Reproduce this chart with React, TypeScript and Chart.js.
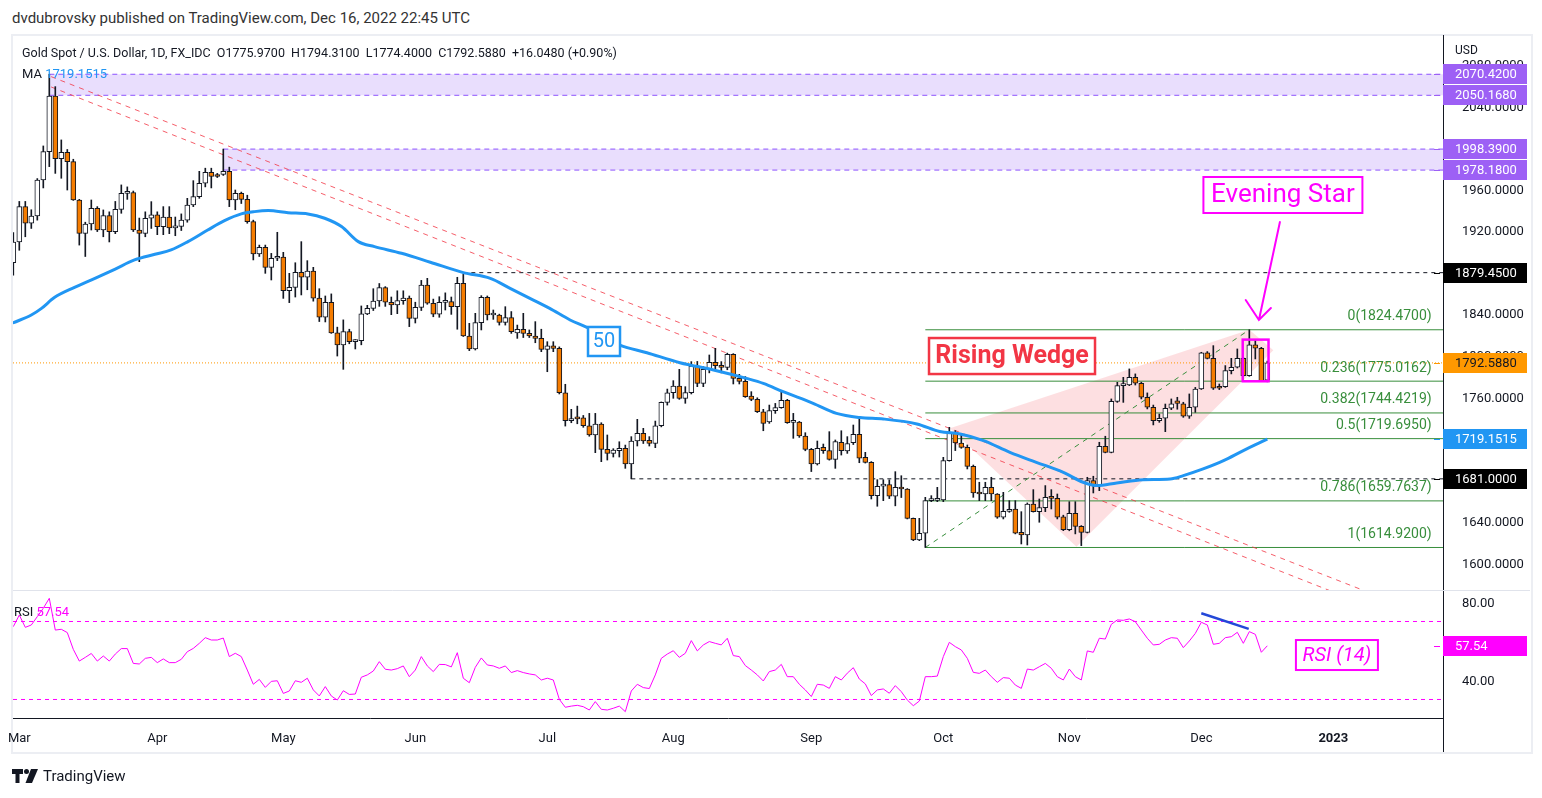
import React, { useEffect, useRef } from "react";
import { Chart, registerables } from "chart.js";

Chart.register(...registerables);

const FONT = "Roboto, 'Noto Sans', sans-serif";

// ---------- Time axis (bar index 0 = 1 Mar 2022, one bar per weekday) ----------
const FIRST_BAR = -1; // 28 Feb 2022
const X_MIN = -1.05;
const X_MAX = 237.28;
const monthTickIdx = [0, 23, 44, 66, 88, 109, 132, 154, 175, 197, 219];
const monthTickLabels = ["Mar", "Apr", "May", "Jun", "Jul", "Aug", "Sep", "Oct", "Nov", "Dec", "2023"];

// ---------- Price pane ----------
const PRICE_MIN = 1574;
const PRICE_MAX = 2108.2;
const priceTickStep = 40;

const opens = [
  1889, 1909, 1943, 1927, 1934, 1968.6, 1996, 2049.5, 1989.2, 1995.3,
  1986.3, 1949.4, 1917.3, 1926.3, 1941.4, 1920.5, 1934.3, 1919, 1940.4, 1955.8,
  1956.6, 1920.5, 1917.3, 1931.8, 1935, 1923.8, 1933, 1922.5, 1924, 1930,
  1944.6, 1952.6, 1965.5, 1976, 1973, 1974, 1977, 1949.4, 1955.8, 1950,
  1928.6, 1897.4, 1903.9, 1884.6, 1893.3, 1894.5, 1862.1, 1865.3, 1879.8, 1875,
  1881, 1855, 1836.5, 1850.9, 1821.5, 1809.8, 1822.7, 1813, 1814, 1839.7,
  1845.1, 1852.2, 1865, 1851, 1848.5, 1852.5, 1855, 1835.5, 1846, 1867.6,
  1850, 1839.5, 1850.9, 1851.5, 1846.7, 1869.2, 1818.5, 1806, 1831.3, 1855.7,
  1838.7, 1838.5, 1831.6, 1836.1, 1821.5, 1824.9, 1821, 1818.5, 1816.2, 1805.6,
  1808.9, 1806.6, 1763.9, 1737, 1740.5, 1739.6, 1732.1, 1723.2, 1733.8, 1709.4,
  1705.5, 1708, 1710.3, 1695.3, 1717.4, 1724.8, 1718, 1715, 1732.1, 1754.6,
  1763.9, 1770.3, 1758.5, 1764, 1789.6, 1772.9, 1786.4, 1793.1, 1789.9, 1788.3,
  1800.8, 1777.7, 1774.8, 1760.7, 1757.5, 1745.6, 1735.7, 1746.6, 1749.5, 1756.5,
  1735.4, 1735.7, 1722.2, 1709.4, 1695.3, 1711.3, 1708.1, 1699.7, 1716.2, 1707.8,
  1715.8, 1723.8, 1701.7, 1696.9, 1664.8, 1674, 1675.5, 1664.2, 1672.8, 1671.2,
  1643, 1622.1, 1628.6, 1660, 1660.2, 1660.8, 1698.5, 1724.8, 1715.5, 1711.3,
  1693, 1667.4, 1666.4, 1672.8, 1666.4, 1644, 1649.7, 1652, 1629.6, 1627,
  1656.8, 1649.4, 1653.3, 1663.5, 1662.2, 1644.5, 1632.1, 1647.8, 1635.3, 1629.5,
  1679.3, 1674.5, 1712.3, 1706.5, 1755.6, 1770.7, 1771.3, 1778.7, 1773, 1759.5,
  1749.9, 1737, 1739.3, 1748.9, 1756, 1753.1, 1741.2, 1749.9, 1767.5, 1802.2,
  1797, 1769.7, 1769.7, 1785.2, 1788.4, 1797, 1780.3, 1809.9, 1806.7, 1775.97,
];
const highs = [
  1918, 1948, 1948, 1940, 1970, 2001.4, 2070.42, 2058.5, 2007.2, 1998,
  1988.6, 1950, 1928, 1949.4, 1943, 1939.8, 1938, 1948, 1963.9, 1962,
  1958, 1932, 1938, 1947.8, 1938, 1943, 1943, 1933, 1936, 1951,
  1968, 1977, 1980, 1980, 1975, 1998.39, 1981, 1959, 1957, 1954,
  1930, 1906, 1906, 1898, 1918.3, 1899, 1878.8, 1889, 1909.3, 1891,
  1884.6, 1864, 1857, 1859, 1827, 1834, 1825, 1815, 1847.4, 1848,
  1864, 1869, 1866, 1856, 1862, 1862, 1857, 1851, 1872, 1874,
  1854, 1856.3, 1860, 1856, 1875, 1877.8, 1830.7, 1840.3, 1857.3, 1857,
  1843.5, 1839.5, 1846.7, 1842, 1829, 1840.3, 1824.3, 1832.3, 1825, 1813,
  1813, 1808, 1772, 1747.9, 1751, 1742, 1744, 1744, 1735, 1723.2,
  1710, 1716.7, 1713.5, 1721.6, 1738.3, 1729.6, 1721.6, 1736.6, 1755, 1767.4,
  1775.5, 1786.4, 1769.7, 1793.8, 1794, 1789, 1800.2, 1806.6, 1793.8, 1802,
  1801.5, 1781.6, 1779.4, 1764.9, 1759, 1747.9, 1752, 1753.6, 1764.9, 1757.5,
  1744, 1736.3, 1725.4, 1710.3, 1717.4, 1714.5, 1726.4, 1718.4, 1727.3, 1721.6,
  1732.8, 1739, 1706.5, 1697.6, 1680.2, 1680.2, 1680, 1687.9, 1684, 1671.6,
  1643.3, 1643, 1663.2, 1664.8, 1672.8, 1701.7, 1730.6, 1727.4, 1724, 1713.6,
  1694.3, 1677.7, 1677.7, 1682.5, 1666.8, 1668, 1660, 1660, 1649.4, 1657.8,
  1670.6, 1661.6, 1674.5, 1670.6, 1666.4, 1646, 1659, 1659, 1636, 1682.5,
  1683.5, 1716.2, 1722, 1757.9, 1773.9, 1778.7, 1786.8, 1782, 1774, 1763.7,
  1752, 1743.4, 1753, 1757.9, 1759.5, 1754.7, 1762.7, 1769, 1802.8, 1803.5,
  1809.2, 1772.3, 1790, 1797, 1806, 1798, 1824.47, 1814.1, 1807.6, 1794.31,
];
const lows = [
  1877, 1901, 1914, 1922, 1930, 1961, 1981.5, 1975, 1970.3, 1959,
  1949, 1906, 1895, 1920.5, 1919, 1914, 1909, 1917, 1936.6, 1950,
  1919, 1890, 1914, 1922, 1916, 1916, 1917, 1915, 1920, 1928,
  1943, 1951, 1962, 1961, 1971, 1973, 1943, 1940, 1946, 1927,
  1891.7, 1895, 1878.8, 1872.4, 1891, 1854.7, 1850.6, 1856, 1858, 1863,
  1852, 1832.4, 1832, 1821, 1799.2, 1786.4, 1811, 1806, 1810, 1839,
  1843, 1847, 1847, 1839, 1840, 1849, 1827.5, 1831, 1843, 1849,
  1837, 1836.5, 1843.5, 1839.3, 1825, 1818, 1804.4, 1805, 1824.3, 1833.9,
  1834.5, 1829, 1829, 1821, 1816.2, 1817, 1817, 1812, 1803.4, 1784.1,
  1803.4, 1762.7, 1731.8, 1735, 1734, 1730.6, 1722, 1706.2, 1697.5, 1699.1,
  1702, 1702, 1691.1, 1681, 1712.6, 1715, 1712.6, 1711, 1731, 1752,
  1758.5, 1757.5, 1753.7, 1762.7, 1769.7, 1769.7, 1783, 1786.7, 1783, 1786,
  1772.3, 1772.3, 1759.4, 1756.2, 1744.8, 1727.3, 1734.4, 1744, 1748.9, 1734.4,
  1720, 1720.9, 1708, 1688, 1694.3, 1705.5, 1699, 1691.1, 1703.9, 1705.5,
  1714, 1696.5, 1696.2, 1661.6, 1654.6, 1660, 1662, 1655, 1663, 1642.4,
  1621.5, 1621.5, 1614.92, 1659, 1659, 1659, 1698, 1708.2, 1710.4, 1690.5,
  1663.2, 1660, 1660, 1660, 1643, 1642.4, 1648.8, 1628, 1618.3, 1617.3,
  1649, 1639.2, 1649.4, 1652, 1642.4, 1631.1, 1631, 1628, 1616.7, 1628.9,
  1667.4, 1669.6, 1706, 1706, 1754.6, 1754.6, 1770.7, 1771.3, 1757.9, 1748.3,
  1732.9, 1735.4, 1726.4, 1747.6, 1748, 1740.2, 1739.2, 1745, 1767, 1796.4,
  1767, 1766.9, 1769, 1782, 1787.7, 1779.7, 1779.7, 1796.4, 1774.9, 1774.4,
];
const closes = [
  1909, 1943, 1927, 1934, 1968.6, 1996, 2049.5, 1989.2, 1995.3, 1986.3,
  1949.4, 1917.3, 1926.3, 1941.4, 1920.5, 1934.3, 1919, 1940.4, 1955.8, 1956.6,
  1920.5, 1917.3, 1931.8, 1935, 1923.8, 1933, 1922.5, 1924, 1930, 1944.6,
  1952.6, 1965.5, 1976, 1972, 1972, 1977, 1949.4, 1955.8, 1950, 1928.6,
  1897.4, 1903.9, 1884.6, 1893.3, 1894.5, 1862.1, 1865.3, 1879.8, 1875, 1881,
  1855, 1836.5, 1850.9, 1821.5, 1809.8, 1822.7, 1813, 1814, 1839.7, 1845.1,
  1852.2, 1865, 1851, 1848.5, 1852.5, 1855, 1835.5, 1846, 1867.6, 1850,
  1839.5, 1850.9, 1851.5, 1846.7, 1869.2, 1818.5, 1806, 1831.3, 1855.7, 1838.7,
  1839.5, 1831.6, 1836.1, 1822.7, 1824.9, 1821, 1818.5, 1816.2, 1805.6, 1808.9,
  1806.6, 1763.9, 1737, 1738.5, 1738.7, 1732.1, 1723.2, 1733.8, 1709.4, 1705.5,
  1708.7, 1710.3, 1695.3, 1717.4, 1724.8, 1717.4, 1715, 1732.1, 1754.6, 1763.9,
  1770.3, 1758.5, 1764, 1789.6, 1772.9, 1786.4, 1793.1, 1789.9, 1788.3, 1800.8,
  1777.7, 1774.8, 1760.1, 1757.5, 1745.6, 1734.4, 1746.6, 1749.5, 1756.5, 1735,
  1736, 1722.2, 1709.4, 1695.3, 1710.3, 1708.1, 1699.7, 1716.8, 1708.1, 1715,
  1723.8, 1701, 1696.9, 1664.8, 1673.8, 1675.5, 1664.2, 1672.8, 1671.2, 1643,
  1622.1, 1628.6, 1660, 1660.6, 1660.8, 1698.5, 1724.8, 1715.5, 1711.3, 1693,
  1667.4, 1666.4, 1672.8, 1666.4, 1644, 1649.7, 1650.2, 1628.6, 1627, 1656.8,
  1649.4, 1653.3, 1663.2, 1662.2, 1644, 1632.1, 1647.8, 1635.3, 1629.5, 1679.3,
  1674.5, 1712.3, 1706.5, 1755.6, 1770.7, 1771.3, 1778.7, 1773, 1759.5, 1749.9,
  1737, 1739.3, 1748.9, 1753.1, 1753.7, 1741.2, 1749.9, 1767.5, 1802.2, 1797,
  1768.2, 1768.2, 1785.2, 1788.4, 1797, 1780.3, 1809.9, 1806.7, 1775.5, 1792.588,
];

// 50-day moving average
const maIdx = [
  -1.1, 2, 3.7, 5.9, 9.2, 12.6, 15.9, 19.2, 22.6, 25.3, 28.1, 31.4, 34.2, 37, 39.2,
  41.5, 44.8, 48.1, 50.9, 53.7, 56.5, 59.2, 63.7, 68.5, 74, 78.5, 81.8, 85.1, 88.4,
  91.8, 94.6, 100.1, 104.6, 110.1, 115.7, 121.2, 124, 127.3, 132.3, 136.2, 140.1,
  144, 149.6, 153.4, 156.8, 160.7, 165.1, 169.5, 174, 177.3, 179.6, 182.9, 187.3,
  191.8, 194, 197.3, 200.7, 204, 208,
];
const maVals = [
  1831, 1838.7, 1845.1, 1855.7, 1865.3, 1874, 1882.7, 1891.7, 1897.1, 1901.3, 1909.3,
  1920.5, 1929.5, 1936, 1938.2, 1939.2, 1937.2, 1936, 1931.8, 1923.8, 1909.3, 1904.5,
  1898.1, 1889.5, 1879.5, 1874, 1864.4, 1854.7, 1845.1, 1833.9, 1826.8, 1809.8,
  1802.4, 1792.8, 1785.8, 1777.7, 1772.9, 1764.9, 1753.7, 1744, 1740, 1738.6, 1733.8,
  1726.5, 1724.2, 1717.8, 1706.5, 1696.9, 1687.3, 1677.7, 1674.5, 1677, 1680.2,
  1680.9, 1684.1, 1690.5, 1698.5, 1708.2, 1719.15,
];

// Drawings
const zoneTops = [2070.42, 1998.39];
const zoneBottoms = [2050.168, 1978.18];
const zoneStartIdx = [5, 34];
const levelLines = [1879.45, 1681];
const levelStartIdx = [74, 102];
const fibRatios = ["0", "0.236", "0.382", "0.5", "0.786", "1"];
const fibLevels = [1824.47, 1775.0162, 1744.4219, 1719.695, 1659.7637, 1614.92];
const fibStartIdx = 151;
const trendA = [{ x: 5.3, y: 2068.1 }, { x: 232, y: 1555.6 }];
const trendB = [{ x: 5.3, y: 2058.2 }, { x: 232, y: 1542.5 }];
const fibDiagonal = [{ x: 151, y: 1614.92 }, { x: 205, y: 1824.47 }];
const wedge = [
  { x: 155.1, y: 1729.7 },
  { x: 205, y: 1824.47 },
  { x: 209, y: 1804.8 },
  { x: 176.2, y: 1615.7 },
];
const starBox = { x0: 203.9, x1: 208.2, y0: 1774.9, y1: 1815 };
const arrowShaft = [{ x: 210.1, y: 1928.2 }, { x: 206.6, y: 1833.9 }];
const arrowWings = [{ x: 204.4, y: 1853.1 }, { x: 208.6, y: 1845.4 }];
const lastPrice = 1792.588;
const maLast = 1719.1515;

// ---------- RSI pane ----------
const RSI_MIN = 20.5;
const RSI_MAX = 86.15;
const rsiVals = [
  67.35, 73.3, 67.0, 68.2, 72.5, 76.8, 81.9, 65.6, 66.0, 64.3,
  55.7, 49.7, 51.6, 53.6, 49.7, 52.3, 49.7, 53.3, 56.1, 56.1,
  48.5, 48.2, 51.1, 51.6, 48.9, 50.8, 48.9, 48.9, 50.6, 54.5,
  56.2, 58.8, 61.7, 60.5, 60.5, 61.5, 52.0, 53.7, 52.0, 45.1,
  37.8, 40.3, 36.2, 39.3, 39.6, 33.1, 34.35, 39.6, 38.8, 40.9,
  34.9, 31.8, 36.6, 31.8, 29.7, 34.5, 32.6, 32.8, 41.4, 42.6,
  44.6, 49.4, 45.5, 45.1, 45.8, 47.2, 41.7, 45.1, 52.0, 47.2,
  44.3, 48.0, 47.9, 46.7, 54.0, 40.9, 38.6, 46.5, 51.3, 47.7,
  47.2, 46.0, 47.2, 43.8, 44.8, 43.8, 43.1, 42.6, 40.0, 40.9,
  40.0, 30.1, 26.0, 26.6, 27.0, 26.3, 24.6, 28.9, 24.95, 24.6,
  25.5, 26.6, 23.75, 34.35, 37.8, 36.1, 35.6, 42.6, 51.1, 53.3,
  55.0, 51.6, 53.7, 60.2, 54.9,
  57.95, 59.7, 58.8, 58.0, 61.4, 52.5, 52.0, 47.4, 45.1, 42.6,
  39.5, 44.3, 45.1, 48.0, 41.7, 41.7, 37.8, 34.9, 31.5, 37.8,
  37.4, 35.7, 41.7, 40.0, 43.5, 46.3, 40.5, 38.0, 32.0, 34.9,
  35.4, 33.2, 37.1, 34.0, 29.7, 26.8, 29.2, 41.7, 41.7, 42.0,
  52.0, 59.3, 57.1, 55.4, 51.1, 43.9, 43.4, 45.1, 41.7, 38.8,
  41.2, 40.9, 37.4, 35.7, 45.6, 45.1, 46.8, 48.5, 46.0, 41.7,
  40.0, 45.6, 41.7, 40.0, 54.9, 54.2, 61.4, 61.0, 68.55, 70.8,
  70.6, 71.3, 69.9, 65.6, 61.4, 57.95, 58.3, 60.5, 61.7, 61.4,
  56.6, 60.0, 63.9, 69.6, 68.2, 58.3, 58.8, 61.7, 62.2, 64.45,
  58.8, 64.8, 63.4, 54.2, 57.54,
];
const rsiBands = [70, 30];
const rsiDivergence = [{ x: 197, y: 74.2 }, { x: 204.9, y: 66.2 }];
const rsiLast = 57.54;

// Text annotations (anchored in data units)
const wedgeLabel = { x: 165.45, y: 1799.2, text: "Rising Wedge" };
const starLabel = { x: 210.6, y: 1954.2, text: "Evening Star" };
const maTag = { x: 97.45, y: 1813.2, text: "50" };
const rsiTag = { x: 219.6, y: 52.8, text: "RSI (14)" };
const fibLabelIdx = 235.4;

const axisTags = [
  { v: 2070.42, bg: "#9d60f5", fg: "#fff" },
  { v: 2050.168, bg: "#9d60f5", fg: "#fff" },
  { v: 1998.39, bg: "#9d60f5", fg: "#fff" },
  { v: 1978.18, bg: "#9d60f5", fg: "#fff" },
  { v: 1879.45, bg: "#000000", fg: "#fff" },
  { v: lastPrice, bg: "#ff9800", fg: "#131722" },
  { v: maLast, bg: "#2196f3", fg: "#fff" },
  { v: 1681, bg: "#000000", fg: "#fff" },
];

const MAGENTA = "#ff00ff";
const FIB_GREEN = "#388e3c";

function hline(y: number, from: number, to: number) {
  return [{ x: from, y }, { x: to, y }];
}

function drawTag(ctx: any, cx: number, cy: number, text: string, font: string, color: string, bw: number, w: number, h: number) {
  ctx.fillStyle = "#ffffff";
  ctx.fillRect(cx - w / 2, cy - h / 2, w, h);
  ctx.lineWidth = bw;
  ctx.strokeStyle = color;
  ctx.strokeRect(cx - w / 2, cy - h / 2, w, h);
  ctx.font = font;
  ctx.fillStyle = color;
  ctx.textAlign = "center";
  ctx.textBaseline = "middle";
  ctx.fillText(text, cx, cy + 1);
}

const drawingsPlugin = {
  id: "tvDrawings",
  afterDatasetsDraw(chart: any) {
    const { ctx } = chart;
    const xs = chart.scales.x;
    const ys = chart.scales.y;
    const rs = chart.scales.rsi;
    const px = (v: number) => xs.getPixelForValue(v);
    const py = (v: number) => ys.getPixelForValue(v);
    ctx.save();

    // fib labels
    ctx.font = `14px ${FONT}`;
    ctx.fillStyle = FIB_GREEN;
    ctx.textAlign = "right";
    ctx.textBaseline = "middle";
    fibLevels.forEach((lv, k) => {
      ctx.fillText(`${fibRatios[k]}(${lv.toFixed(4)})`, px(fibLabelIdx), py(lv) - 13);
    });

    // evening star box
    ctx.strokeStyle = MAGENTA;
    ctx.lineWidth = 2.5;
    ctx.strokeRect(px(starBox.x0), py(starBox.y1), px(starBox.x1) - px(starBox.x0), py(starBox.y0) - py(starBox.y1));

    // arrow
    ctx.lineWidth = 2;
    ctx.lineCap = "round";
    ctx.beginPath();
    ctx.moveTo(px(arrowShaft[0].x), py(arrowShaft[0].y));
    ctx.lineTo(px(arrowShaft[1].x), py(arrowShaft[1].y));
    ctx.moveTo(px(arrowWings[0].x), py(arrowWings[0].y));
    ctx.lineTo(px(arrowShaft[1].x), py(arrowShaft[1].y));
    ctx.lineTo(px(arrowWings[1].x), py(arrowWings[1].y));
    ctx.stroke();

    drawTag(ctx, px(wedgeLabel.x), py(wedgeLabel.y), wedgeLabel.text, `bold 25px ${FONT}`, "#f23645", 2.5, 166, 36);
    drawTag(ctx, px(starLabel.x), py(starLabel.y), starLabel.text, `26px ${FONT}`, MAGENTA, 2, 159, 36);
    drawTag(ctx, px(maTag.x), py(maTag.y), maTag.text, `20px ${FONT}`, "#2196f3", 2.5, 32, 29);
    drawTag(ctx, px(rsiTag.x), rs.getPixelForValue(rsiTag.y), rsiTag.text, `italic 20px ${FONT}`, MAGENTA, 2, 82, 30);
    ctx.restore();
  },
  afterDraw(chart: any) {
    const { ctx } = chart;
    const ys = chart.scales.y;
    const rs = chart.scales.rsi;
    const area = chart.chartArea;
    ctx.save();
    // pane separator
    ctx.strokeStyle = "#e0e3eb";
    ctx.lineWidth = 1;
    ctx.beginPath();
    ctx.moveTo(area.left, Math.round(ys.bottom) + 0.5);
    ctx.lineTo(chart.width, Math.round(ys.bottom) + 0.5);
    ctx.stroke();
    // price axis line through time axis
    ctx.strokeStyle = "#131722";
    ctx.beginPath();
    ctx.moveTo(Math.round(ys.left) + 0.5, area.bottom);
    ctx.lineTo(Math.round(ys.left) + 0.5, chart.height);
    ctx.stroke();

    const tag = (scale: any, v: number, text: string, bg: string, fg: string) => {
      const y = Math.round(scale.getPixelForValue(v));
      ctx.fillStyle = bg;
      ctx.fillRect(scale.left, y - 10, 84, 20);
      ctx.fillRect(scale.left - 9, y, 6, 1);
      ctx.fillStyle = fg;
      ctx.font = `13px ${FONT}`;
      ctx.textAlign = "left";
      ctx.textBaseline = "middle";
      ctx.fillText(text, scale.left + 12, y + 1);
    };
    axisTags.forEach((t) => tag(ys, t.v, t.v.toFixed(4), t.bg, t.fg));
    tag(rs, rsiLast, rsiLast.toFixed(2), MAGENTA, "#fff");
    ctx.restore();
  },
};

export default function App() {
  const ref = useRef<HTMLCanvasElement | null>(null);

  useEffect(() => {
    const bars = opens.map((_, k) => k + FIRST_BAR);
    const wickData = bars.map((x, k) => ({ x, y: [lows[k], highs[k]] }));
    const bodyData = bars.map((x, k) => ({ x, y: [opens[k], closes[k]] }));
    const maData = maIdx.map((x, k) => ({ x, y: maVals[k] }));
    const rsiData = rsiVals.map((y, k) => ({ x: k + FIRST_BAR, y }));

    const lineBase = { type: "line", pointRadius: 0, pointHoverRadius: 0, fill: false, xAxisID: "x", yAxisID: "y" };
    const datasets: any[] = [];

    // purple zones (top fills to bottom)
    zoneTops.forEach((top, k) => {
      datasets.push({ ...lineBase, data: hline(top, zoneStartIdx[k], X_MAX), borderColor: "#8c52ff", borderWidth: 1, borderDash: [5, 4], fill: "+1", backgroundColor: "rgba(155,105,245,0.22)", order: 100 });
      datasets.push({ ...lineBase, data: hline(zoneBottoms[k], zoneStartIdx[k], X_MAX), borderColor: "#8c52ff", borderWidth: 1, borderDash: [5, 4], order: 100 });
    });
    // wedge
    datasets.push({ ...lineBase, data: wedge, borderWidth: 0, borderColor: "rgba(0,0,0,0)", fill: "shape", backgroundColor: "rgba(242,54,69,0.16)", order: 95 });
    // horizontal levels
    levelLines.forEach((lv, k) => {
      datasets.push({ ...lineBase, data: hline(lv, levelStartIdx[k], X_MAX), borderColor: "#131722", borderWidth: 1, borderDash: [4, 4], order: 90 });
    });
    // fib levels
    fibLevels.forEach((lv) => {
      datasets.push({ ...lineBase, data: hline(lv, fibStartIdx, X_MAX), borderColor: FIB_GREEN, borderWidth: 1, order: 85 });
    });
    datasets.push({ ...lineBase, data: fibDiagonal, borderColor: FIB_GREEN, borderWidth: 1, borderDash: [5, 5], order: 80 });
    // descending trend lines
    datasets.push({ ...lineBase, data: trendA, borderColor: "rgba(242,54,69,0.8)", borderWidth: 1, borderDash: [5, 5], order: 75 });
    datasets.push({ ...lineBase, data: trendB, borderColor: "rgba(242,54,69,0.8)", borderWidth: 1, borderDash: [5, 5], order: 75 });
    // last price line
    datasets.push({ ...lineBase, data: hline(lastPrice, X_MIN, X_MAX), borderColor: "#ff9800", borderWidth: 1, borderDash: [1, 2], order: 70 });
    // candles
    datasets.push({ type: "bar", data: wickData, xAxisID: "x", yAxisID: "y", backgroundColor: "#131722", borderWidth: 0, barThickness: 1, grouped: false, minBarLength: 1, order: 20 });
    datasets.push({
      type: "bar", data: bodyData, xAxisID: "x", yAxisID: "y",
      backgroundColor: (c: any) => (closes[c.dataIndex] >= opens[c.dataIndex] ? "#ffffff" : "#f57c00"),
      borderColor: "#131722", borderWidth: 1, borderSkipped: false, barThickness: 5, grouped: false, minBarLength: 2, order: 15,
    });
    // MA 50
    datasets.push({ ...lineBase, data: maData, borderColor: "#2196f3", borderWidth: 3, cubicInterpolationMode: "monotone", order: 5 });
    // RSI pane
    rsiBands.forEach((b) => {
      datasets.push({ ...lineBase, yAxisID: "rsi", data: hline(b, X_MIN, X_MAX), borderColor: MAGENTA, borderWidth: 1, borderDash: [4, 4], order: 60 });
    });
    datasets.push({ ...lineBase, yAxisID: "rsi", data: rsiData, borderColor: MAGENTA, borderWidth: 1, order: 4 });
    datasets.push({ ...lineBase, yAxisID: "rsi", data: rsiDivergence, borderColor: "#2448d8", borderWidth: 2.5, order: 3 });

    const tickFont = { family: FONT, size: 13 };
    const chart = new Chart(ref.current as HTMLCanvasElement, {
      type: "line",
      data: { datasets },
      options: {
        animation: false,
        responsive: false,
        devicePixelRatio: 1,
        events: [],
        layout: { padding: { left: 9, right: 0, top: 0, bottom: 0 } },
        plugins: { legend: { display: false }, tooltip: { enabled: false } },
        scales: {
          x: {
            type: "linear",
            min: X_MIN,
            max: X_MAX,
            offset: false,
            grid: { display: false },
            border: { display: true, color: "#131722", width: 1 },
            ticks: {
              autoSkip: false,
              maxRotation: 0,
              padding: 5,
              color: "#131722",
              font: (c: any) => ({ family: FONT, size: 13, weight: c.tick && c.tick.value === 219 ? "bold" : "normal" }),
              callback: (v: any) => monthTickLabels[monthTickIdx.indexOf(Number(v))] ?? "",
            },
            afterBuildTicks: (s: any) => {
              s.ticks = monthTickIdx.map((value) => ({ value }));
            },
            afterFit: (s: any) => {
              s.height = 34;
              s.paddingLeft = 0;
              s.paddingRight = 0;
            },
          },
          y: {
            type: "linear",
            position: "right",
            stack: "panes",
            stackWeight: 555,
            min: PRICE_MIN,
            max: PRICE_MAX,
            grid: { display: false },
            border: { display: true, color: "#131722", width: 1 },
            ticks: {
              stepSize: priceTickStep,
              includeBounds: false,
              padding: 11,
              labelOffset: 1.5,
              color: "#131722",
              font: tickFont,
              callback: (v: any) => Number(v).toFixed(4),
            },
            afterFit: (s: any) => {
              s.width = 87;
              s.paddingTop = 0;
              s.paddingBottom = 0;
            },
          },
          rsi: {
            type: "linear",
            position: "right",
            stack: "panes",
            stackWeight: 128,
            min: RSI_MIN,
            max: RSI_MAX,
            grid: { display: false },
            border: { display: true, color: "#131722", width: 1 },
            ticks: {
              stepSize: 20,
              includeBounds: false,
              padding: 11,
              labelOffset: 1.5,
              color: "#131722",
              font: tickFont,
              callback: (v: any) => Number(v).toFixed(2),
            },
            afterFit: (s: any) => {
              s.width = 87;
              s.paddingTop = 0;
              s.paddingBottom = 0;
            },
          },
        },
      } as any,
      plugins: [drawingsPlugin],
    } as any);
    return () => chart.destroy();
  }, []);

  const txt = "#131722";
  return (
    <div style={{ position: "fixed", left: 0, top: 0, width: 1542, height: 798, background: "#ffffff", overflow: "hidden", fontFamily: FONT }}>
      <div style={{ position: "absolute", left: 12, top: 9, fontSize: 15, lineHeight: "18px", color: "#333", whiteSpace: "pre" }}>
        dvdubrovsky published on TradingView.com, Dec 16, 2022 22:45 UTC
      </div>
      <div style={{ position: "absolute", left: 11, top: 34, width: 1518, height: 716, border: "2px solid #eceef3" }} />
      <canvas ref={ref} width={1526} height={717} style={{ position: "absolute", left: 4, top: 35, width: 1526, height: 717 }} />
      <div style={{ position: "absolute", left: 22, top: 45, fontSize: 12.5, lineHeight: "16px", color: txt, whiteSpace: "pre" }}>
        {"Gold Spot / U.S. Dollar, 1D, FX_IDC  O1775.9700  H1794.3100  L1774.4000  C1792.5880  +16.0480 (+0.90%)"}
      </div>
      <div style={{ position: "absolute", left: 22, top: 66, fontSize: 13, lineHeight: "16px", color: txt, whiteSpace: "pre" }}>
        {"MA "}
        <span style={{ color: "#2196f3" }}>1719.1515</span>
      </div>
      <div style={{ position: "absolute", left: 1455, top: 42, fontSize: 12, lineHeight: "16px", color: txt }}>USD</div>
      <div style={{ position: "absolute", left: 14, top: 604, fontSize: 13, lineHeight: "16px", color: txt, whiteSpace: "pre" }}>
        {"RSI "}
        <span style={{ color: MAGENTA }}>57.54</span>
      </div>
      <div style={{ position: "absolute", left: 12, top: 767, height: 18, display: "flex", alignItems: "center", color: txt }}>
        <svg width="26" height="14" viewBox="0 0 26 14" style={{ marginRight: 5 }}>
          <path d="M0 0h11v5H7.5v9h-4V5H0z" fill={txt} />
          <circle cx="14.5" cy="2.5" r="2.5" fill={txt} />
          <path d="M19 0h7l-6 14h-6.5z" fill={txt} />
        </svg>
        <span style={{ fontSize: 15 }}>TradingView</span>
      </div>
    </div>
  );
}
